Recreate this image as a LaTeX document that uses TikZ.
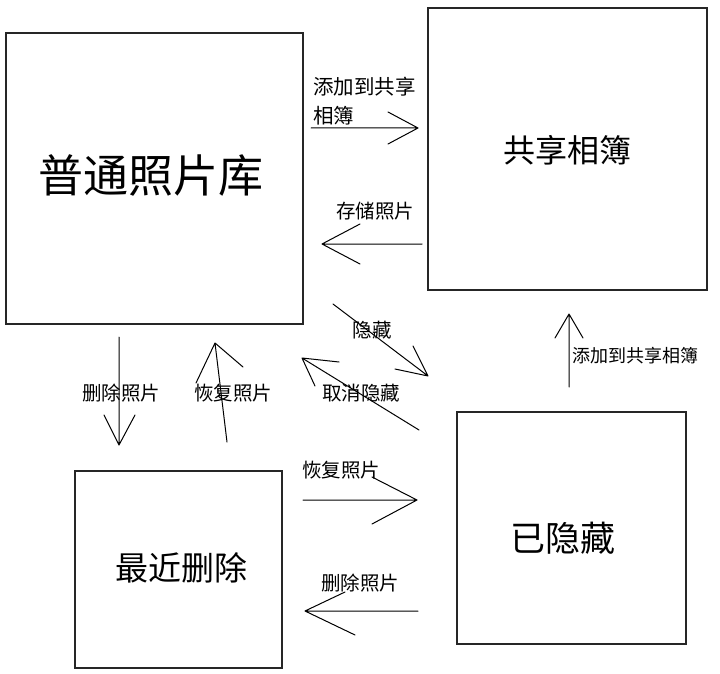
\documentclass[tikz,border=0pt]{standalone}
\usepackage{fontspec}
\newfontfamily\cjk{Noto Sans CJK SC}
\begin{document}
\begin{tikzpicture}[x=1pt,y=-1pt,
  box/.style={draw=black!85,line width=1.3pt},
  big/.style={font=\cjk\fontsize{#1}{#1}\selectfont,inner sep=0pt},
  lbl/.style={font=\cjk\fontsize{19.5}{27}\selectfont,inner sep=0pt},
  arr/.style={draw=black,line width=1pt,line cap=round,line join=round}]
\useasboundingbox[fill=white] (0,0) rectangle (720,674);
% boxes
\draw[box] (6,33) rectangle (303,324);
\draw[box] (428,8) rectangle (707,290);
\draw[box] (75,471) rectangle (282,668);
\draw[box] (457,412) rectangle (686,644);
\node[big=45] (lib) at (151,175) {普通照片库};
\node[big=32] (shared) at (567,150) {共享相簿};
\node[big=33] (recent) at (181,568) {最近删除};
\node[big=35] (hidden) at (563,538) {已隐藏};
% arrow endpoints
\coordinate (a1s) at (311,128); \coordinate (a1t) at (418,128);
\coordinate (a2s) at (422,244); \coordinate (a2t) at (322,244);
\coordinate (a3s) at (333,304); \coordinate (a3t) at (428,376);
\coordinate (a4s) at (419,430); \coordinate (a4t) at (302,358);
\coordinate (a5s) at (119,337); \coordinate (a5t) at (119,445);
\coordinate (a6s) at (227,442); \coordinate (a6t) at (215,343);
\coordinate (a7s) at (303,500); \coordinate (a7t) at (417,500);
\coordinate (a8s) at (418,611); \coordinate (a8t) at (305,611);
\coordinate (a9s) at (569,387); \coordinate (a9t) at (569,314);
% arrows with open heads
\draw[arr] (a1s) -- (a1t) (388,112) -- (a1t) -- (388,144);
\draw[arr] (a2s) -- (a2t) (360,224) -- (a2t) -- (360,264);
\draw[arr] (a3s) -- (a3t) (413,346) -- (a3t) -- (395,369);
\draw[arr] (a4s) -- (a4t) (339,362) -- (a4t) -- (315,386);
\draw[arr] (a5s) -- (a5t) (104,415) -- (a5t) -- (135,415);
\draw[arr] (a6s) -- (a6t) (196,383) -- (a6t) -- (243,367);
\draw[arr] (a7s) -- (a7t) (372,477) -- (a7t) -- (372,524);
\draw[arr] (a8s) -- (a8t) (345,592) -- (a8t) -- (355,635);
\draw[arr] (a9s) -- (a9t) (555,338) -- (a9t) -- (583,338);
% labels
\node[lbl,anchor=west,align=left,font=\cjk\fontsize{20.5}{29}\selectfont] (l1) at (313,101) {添加到共享\\相簿};
\node[lbl] (l2) at (375,211) {存储照片};
\node[lbl] (l3) at (372,330) {隐藏};
\node[lbl] (l4) at (361,393) {取消隐藏};
\node[lbl] (l5) at (121,393) {删除照片};
\node[lbl] (l6) at (233,393) {恢复照片};
\node[lbl] (l7) at (341,470) {恢复照片};
\node[lbl] (l8) at (360,583) {删除照片};
\node[lbl,font=\cjk\fontsize{18}{20}\selectfont] (l9) at (635,356) {添加到共享相簿};
\end{tikzpicture}
\end{document}
